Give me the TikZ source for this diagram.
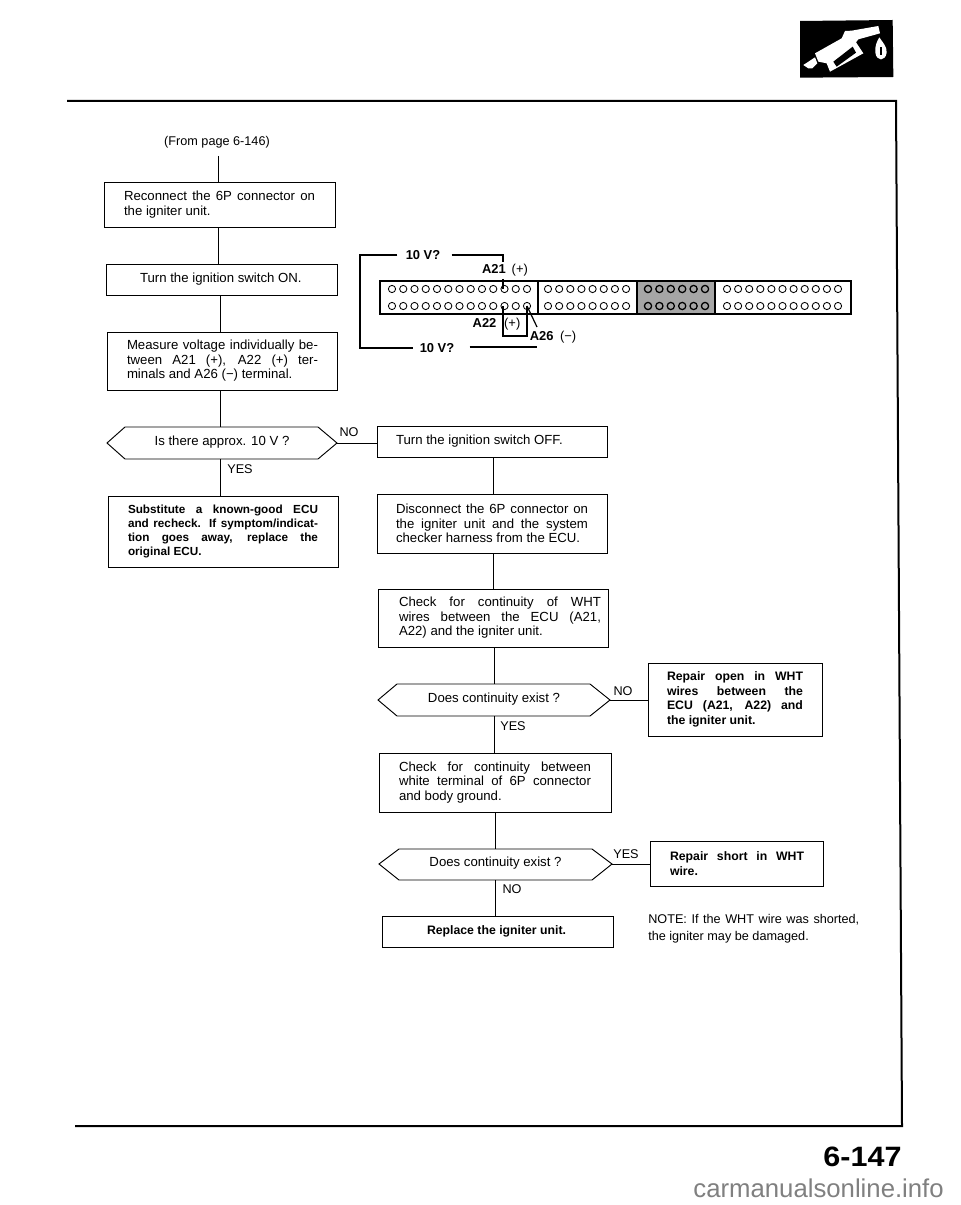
\documentclass[tikz,border=0pt]{standalone}
\usepackage{fontspec}
\usetikzlibrary{calc}
\setmainfont{Liberation Sans}
\newdimen\pxu \pxu=0.75pt
\newcommand{\bxpad}{0}
\newcommand{\jl}[2]{\hspace*{\bxpad\pxu}\makebox[#1\pxu][s]{#2}}
\newcommand{\pl}[1]{\hspace*{\bxpad\pxu}#1}
% [style]{name}{x1}{y1}{x2}{y2}{pad}{text}
\newcommand{\bx}[8][]{%
  \pgfmathsetmacro{\bxcx}{(#3+#5)/2}%
  \pgfmathsetmacro{\bxcy}{(#4+#6)/2}%
  \renewcommand{\bxpad}{#7}%
  \node[flowbox,#1,minimum width={(#5-#3)*0.75pt},text width={(#5-#3)*0.75pt},minimum height={(#6-#4)*0.75pt}] (#2) at (\bxcx,\bxcy) {#8};%
}
% {name}{xl}{xs1}{xs2}{xr}{yt}{ym}{yb}{text}
\newcommand{\hexd}[9]{%
  \pgfmathsetmacro{\bxcx}{(#2+#5)/2}%
  \pgfmathsetmacro{\bxcy}{#7-1}%
  \coordinate (#1t) at (\bxcx,#6);
  \coordinate (#1b) at (\bxcx,#8);
  \coordinate (#1r) at (#5,#7);
  \draw[hexline] (#2,#7) -- (#3,#6) -- (#4,#6) -- (#5,#7) -- (#4,#8) -- (#3,#8) -- cycle;
  \node[hextext] (#1) at (\bxcx,\bxcy) {#9};%
}
\begin{document}
\begin{tikzpicture}[x=0.75pt,y=-0.75pt,
  flowbox/.style={draw=black,line width=0.7pt,fill=white,inner sep=0pt,align=flush left,font=\fontsize{9.9}{10.9}\selectfont},
  boldbox/.style={font=\fontsize{8.8}{10.7}\selectfont\bfseries},
  boldboxb/.style={font=\fontsize{9.2}{11}\selectfont\bfseries},
  hexline/.style={draw=black,line width=0.7pt},
  hextext/.style={inner sep=0pt,font=\fontsize{9.9}{11}\selectfont},
  conn/.style={draw=black,line width=0.7pt},
  wire/.style={draw=black,line width=0.9pt},
  lab/.style={inner sep=0pt,font=\fontsize{9.5}{11}\selectfont},
  vlab/.style={inner sep=0pt,font=\fontsize{9.7}{11}\selectfont},
  frameline/.style={draw=black,line width=1.5pt},
  hole/.style={draw=black,line width=0.65pt}]
\useasboundingbox (0,0) rectangle (960,1205);
\fill[white] (0,0) rectangle (960,1205);

% page frame
\draw[frameline] (67,101) -- (896,101) -- (902,1126) -- (75,1126);

% pump icon
\begin{scope}[shift={(780,0)},x=0.25pt,y=-0.25pt]
  \fill[black] (60,63) -- (338,60) -- (340,231) -- (60,233) -- cycle;
  \fill[white] (105,160) -- (185,115) -- (195,93) -- (215,92) -- (295,78) -- (300,100) -- (235,118) -- (228,127) -- (250,160) -- (150,215) -- (140,190) -- (115,185) -- cycle;
  \fill[white] (70,195) -- (105,172) -- (112,190) -- (97,205) -- (85,205) -- cycle;
  \fill[black] (160,185) -- (218,140) -- (228,158) -- (170,200) -- cycle;
  \fill[white] (298,112) .. controls (290,125) and (284,140) .. (286,158) .. controls (290,185) and (316,185) .. (320,158) .. controls (322,140) and (306,125) .. (298,112) -- cycle;
  \fill[black] (300,140) -- (306,140) -- (306,165) -- (300,165) -- cycle;
\end{scope}

% title
\node[lab] (from) at (217,142) {(From page 6-146)};
\coordinate (startL) at (218,156);
\coordinate (cLa) at (218,0);
\coordinate (cLb) at (220.5,0);
\coordinate (cRa) at (493,0);
\coordinate (cRb) at (494.5,0);
\coordinate (cRc) at (495.5,0);

% left column
\bx{b1}{104}{182}{335}{227}{20}{\jl{191}{Reconnect the 6P connector on}\\\pl{the igniter unit.}}
\bx{b2}{106}{264}{337}{295}{34}{\pl{Turn the ignition switch ON.}}
\bx{b3}{107}{332}{337}{390}{20}{\jl{191}{Measure voltage individually be-}\\\jl{191}{tween A21 (+), A22 (+) ter-}\\\pl{minals and A26 (−) terminal.}}
\hexd{d1}{107}{125}{318}{337}{427}{443}{459}{Is there approx. 10 V ?}
\bx[boldbox]{b4}{108}{496}{338}{567}{20}{\jl{190}{Substitute a known-good ECU}\\\jl{190}{and recheck. If symptom/indicat-}\\\jl{190}{tion goes away, replace the}\\\pl{original ECU.}}

% right column
\bx{r1}{377}{426}{607}{457}{19}{\pl{Turn the ignition switch OFF.}}
\bx{r2}{377}{494}{607}{553}{19}{\jl{192}{Disconnect the 6P connector on}\\\jl{192}{the igniter unit and the system}\\\pl{checker harness from the ECU.}}
\bx{r3}{378}{589}{608}{647}{21}{\jl{202}{Check for continuity of WHT}\\\jl{202}{wires between the ECU (A21,}\\\pl{A22) and the igniter unit.}}
\hexd{d2}{378}{397}{590}{610}{684}{700}{716}{Does continuity exist ?}
\bx[boldboxb]{s1}{648}{663}{822}{736}{19}{\jl{136}{Repair open in WHT}\\\jl{136}{wires between the}\\\jl{136}{ECU (A21, A22) and}\\\pl{the igniter unit.}}
\bx{r4}{379}{753}{611}{812}{20}{\jl{192}{Check for continuity between}\\\jl{192}{white terminal of 6P connector}\\\pl{and body ground.}}
\hexd{d3}{379}{399}{592}{612}{849}{864}{880}{Does continuity exist ?}
\bx[boldboxb]{s2}{650}{841}{823}{886}{20}{\jl{134}{Repair short in WHT}\\\pl{wire.}}
\bx[boldboxb]{r5}{382}{916}{613}{947}{45}{\pl{Replace the igniter unit.}}

% note
\node[lab,anchor=west] (note1) at (648,920) {\makebox[211\pxu][s]{NOTE: If the WHT wire was shorted,}};
\node[lab,anchor=west] (note2) at (648,937) {the igniter may be damaged.};

% flow connectors
\draw[conn] (startL) -- (b1.north -| startL);
\draw[conn] (b1.south -| cLa) -- (b2.north -| cLa);
\draw[conn] (b2.south -| cLb) -- (b3.north -| cLb);
\draw[conn] (b3.south -| cLb) -- (d1t -| cLb);
\draw[conn] (d1b -| cLb) -- (b4.north -| cLb);
\draw[conn] (d1r) -- (d1r -| r1.west);
\draw[conn] (r1.south -| cRa) -- (r2.north -| cRa);
\draw[conn] (r2.south -| cRa) -- (r3.north -| cRa);
\draw[conn] (r3.south -| cRb) -- (d2t -| cRb);
\draw[conn] (d2b -| cRb) -- (r4.north -| cRb);
\draw[conn] (d2r) -- (d2r -| s1.west);
\draw[conn] (r4.south -| cRc) -- (d3t -| cRc);
\draw[conn] (d3b -| cRc) -- (r5.north -| cRc);
\draw[conn] (d3r) -- (d3r -| s2.west);

% yes/no labels
\node[lab] (no1) at (349,432) {NO};
\node[lab] (yes1) at (240,469) {YES};
\node[lab] (no2) at (623,691) {NO};
\node[lab] (yes2) at (513,726) {YES};
\node[lab] (yes3) at (626,854) {YES};
\node[lab] (no3) at (512,889) {NO};

% terminal block
\fill[black!35] (637,282) rectangle (715,313);
\draw[line width=1.1pt] (380,281) rectangle (851,314);
\draw[line width=1.1pt] (538,281) -- (538,314);
\draw[line width=0.9pt] (637,281) -- (637,314);
\draw[line width=0.9pt] (715,281) -- (715,314);
\foreach \yy in {289,306}{
  \foreach \ii in {0,...,12}{\draw[hole] ({392+\ii*11.25},\yy) circle[radius=3.6];}
  \foreach \ii in {0,...,7}{\draw[hole] ({548+\ii*11.15},\yy) circle[radius=3.6];}
  \foreach \ii in {0,...,5}{\draw[hole,line width=0.95pt] ({648+\ii*11.4},\yy) circle[radius=3.6];}
  \foreach \ii in {0,...,10}{\draw[hole] ({727+\ii*11.1},\yy) circle[radius=3.6];}
}
\coordinate (pinA) at (503,289);
\coordinate (pinB) at (503,306);
\coordinate (pinC) at (527,306);

\node[vlab,font=\fontsize{9.7}{11}\selectfont\bfseries] (vt) at (423,255) {10 V?};
\node[vlab,font=\fontsize{9.7}{11}\selectfont\bfseries] (vb) at (437,348) {10 V?};
\node[vlab] (a21) at (505,270) {\textbf{A21}\hspace{0.45em}(+)};
\node[vlab] (a22) at (496.5,324) {\textbf{A22}\hspace{0.6em}(+)};
\node[vlab] (a26) at (553,337) {\textbf{A26}\hspace{0.5em}(−)};

\coordinate (tl) at (360,255);
\coordinate (bl) at (360,348);
\coordinate (a21top) at (503,262);
\coordinate (a21low) at (503,279);
\coordinate (cornerT) at (503,255);
\coordinate (a26end) at (537,327);
\coordinate (bend) at (537,347);
\draw[wire] ($(vt.west)+(-8,0)$) -- (tl) -- (bl) -- ($(vb.west)+(-6,0)$);
\draw[wire] ($(vt.east)+(11,0)$) -- (cornerT) -- (a21top);
\draw[wire] (a21low) -- (pinA);
\draw[wire,line width=1.3pt] ($(vb.east)+(15,-1)$) -- (bend);
\draw[wire] (pinB) -- (503,336) -- (527,336) -- (pinC);
\draw[wire] (pinC) -- (a26end);

% page number and site line
\node[inner sep=0pt,font=\fontsize{21}{24}\selectfont\bfseries] (pageno) at (862.5,1157) {\scalebox{1.09}[1]{6-147}};
\node[inner sep=0pt,text=black!50,font=\fontsize{19.3}{22}\selectfont,anchor=base east] (site) at (944,1197) {carmanualsonline.info};
\end{tikzpicture}
\end{document}
